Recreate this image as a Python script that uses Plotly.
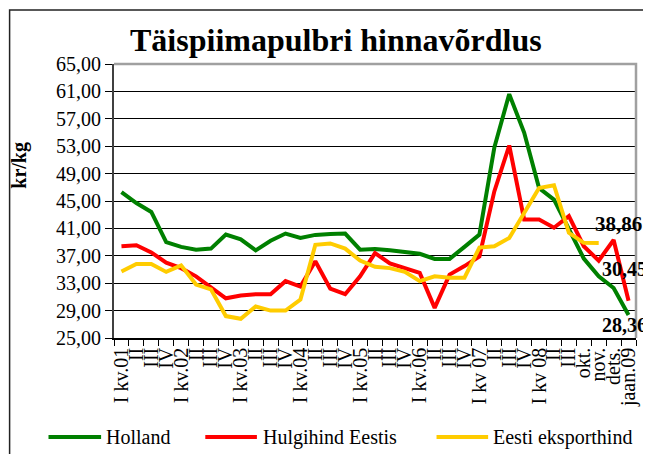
import plotly.graph_objects as go

categories = ["I kv.01", "II", "III", "IV", "I kv.02", "II", "III", "IV",
              "I kv.03", "II", "III", "IV", "I kv.04", "II", "III", "IV",
              "I kv.05", "II", "III", "IV", "I kv.06", "II", "III", "IV",
              "I kv 07", "II", "III", "IV", "I kv 08", "II", "III",
              "okt.", "nov.", "dets.", "jaan.09"]

holland = [46.3, 44.7, 43.4, 39.0, 38.3, 37.9, 38.05, 40.1, 39.4, 37.8, 39.2, 40.25,
           39.6, 40.05, 40.2, 40.25, 37.9, 38.0, 37.8, 37.6, 37.3, 36.55, 36.55, 38.3,
           40.1, 52.8, 60.6, 55.0, 46.9, 45.2, 40.8, 36.6, 34.0, 32.3, 28.36]

hulgihind = [38.4, 38.55, 37.5, 36.0, 35.2, 34.0, 32.4, 30.8, 31.2, 31.4, 31.4, 33.3,
             32.5, 36.2, 32.2, 31.4, 34.0, 37.4, 35.9, 35.2, 34.5, 29.4, 34.25, 35.5,
             36.9, 46.4, 53.1, 42.3, 42.3, 41.1, 42.8, 38.4, 36.3, 39.3, 30.45]

eksport = [34.7, 35.8, 35.8, 34.65, 35.6, 32.8, 32.1, 28.2, 27.8, 29.6, 29.0, 29.0,
           30.6, 38.6, 38.8, 38.05, 36.3, 35.4, 35.2, 34.65, 33.3, 34.0, 33.8, 33.8,
           38.2, 38.4, 39.6, 43.3, 46.9, 47.3, 40.35, 38.9, 38.86, None, None]

series_names = ["Holland", "Hulgihind Eestis", "Eesti eksporthind"]
series_colors = ["#008000", "#FF0000", "#FFCC00"]

y_ticks = [25, 29, 33, 37, 41, 45, 49, 53, 57, 61, 65]
y_ticktext = [f"{v:.2f}".replace(".", ",") for v in y_ticks]

FONT = "Liberation Serif, Times New Roman, serif"

# page body has an 8px margin; figure sized to fit the 651x454 window
OFF = 8
W, H = 651 - OFF, 454 - OFF
L, R, T, B = 114, 640, 64, 338   # plot area in window pixels


def fx(px):
    return (px - L) / (R - L)


def fy(py):
    return (B - py) / (B - T)


def fmt(v):
    return f"{v:.2f}".replace(".", ",")


x_idx = list(range(len(categories)))

fig = go.Figure()
for name, vals, col in zip(series_names, [holland, hulgihind, eksport], series_colors):
    fig.add_trace(go.Scatter(x=x_idx, y=vals, name=name, mode="lines",
                             line=dict(color=col, width=4), showlegend=False,
                             connectgaps=False))

shapes = []
# outer chart border (left and top edges visible)
shapes.append(dict(type="path", xref="paper", yref="paper",
                   path=f"M {fx(8.8)} {fy(470)} L {fx(8.8)} {fy(10)} L {fx(670)} {fy(10)}",
                   line=dict(color="#222222", width=1.5)))
# plot-area frame top/right in gray
shapes.append(dict(type="path", xref="paper", yref="paper",
                   path="M 0 1 L 1 1 L 1 0",
                   line=dict(color="#A0A0A0", width=2.5), layer="above"))

# manual legend
legend_items = [(48, 101, 104), (206, 258, 262), (439, 491, 494)]
annotations = []
for (x0, x1, tx), name, col in zip(legend_items, series_names, series_colors):
    shapes.append(dict(type="line", xref="paper", yref="paper",
                       x0=fx(x0), x1=fx(x1), y0=fy(437), y1=fy(437),
                       line=dict(color=col, width=4)))
    annotations.append(dict(xref="paper", yref="paper", x=fx(tx), y=fy(437),
                            text=name, showarrow=False, xanchor="left", yanchor="middle",
                            font=dict(family=FONT, size=20, color="black")))

# title
annotations.append(dict(xref="paper", yref="paper", x=fx(338), y=fy(40),
                        text="<b>Täispiimapulbri hinnavõrdlus</b>", showarrow=False,
                        xanchor="center", yanchor="middle",
                        font=dict(family=FONT, size=32, color="black")))
# y-axis title
annotations.append(dict(xref="paper", yref="paper", x=fx(18), y=fy(165),
                        text="<b>kr/kg</b>", showarrow=False, textangle=-90,
                        xanchor="center", yanchor="middle",
                        font=dict(family=FONT, size=20, color="black")))

# end value labels
annotations.append(dict(x=32, y=eksport[32], text="<b>" + fmt(eksport[32]) + "</b>",
                        showarrow=False, xanchor="center", yanchor="middle",
                        xshift=20, yshift=19,
                        font=dict(family=FONT, size=21, color="black")))
annotations.append(dict(x=34, y=hulgihind[34], text="<b>" + fmt(hulgihind[34]) + "</b>",
                        showarrow=False, xanchor="left", yanchor="middle",
                        xshift=-29, yshift=32,
                        font=dict(family=FONT, size=20, color="black")))
annotations.append(dict(x=34, y=holland[34], text="<b>" + fmt(holland[34]) + "</b>",
                        showarrow=False, xanchor="left", yanchor="middle",
                        xshift=-29, yshift=-10,
                        font=dict(family=FONT, size=20, color="black")))

fig.update_layout(
    width=W, height=H,
    margin=dict(l=L - OFF, r=651 - R, t=T - OFF, b=454 - B, pad=0),
    paper_bgcolor="white", plot_bgcolor="white",
    font=dict(family=FONT, size=20, color="black"),
    showlegend=False,
    shapes=shapes,
    annotations=annotations,
)

fig.update_xaxes(
    range=[-0.5, len(categories) - 0.5],
    tickmode="array", tickvals=x_idx, ticktext=categories,
    tickangle=-90, ticks="", showgrid=False, zeroline=False,
    showline=True, linecolor="black", linewidth=1.5,
    tickfont=dict(family=FONT, size=20, color="black"),
    minor=dict(tickmode="linear", tick0=-0.5, dtick=1, ticks="outside",
               ticklen=6, tickcolor="black", tickwidth=1, showgrid=False),
    fixedrange=True,
)

fig.update_yaxes(
    range=[25, 65], tickmode="array", tickvals=y_ticks, ticktext=y_ticktext,
    ticks="outside", ticklen=7, tickcolor="black", tickwidth=1,
    showgrid=True, gridcolor="black", gridwidth=1, zeroline=False,
    showline=True, linecolor="#404040", linewidth=2,
    tickfont=dict(family=FONT, size=20, color="black"),
    fixedrange=True,
)

fig.write_html("out.html")
